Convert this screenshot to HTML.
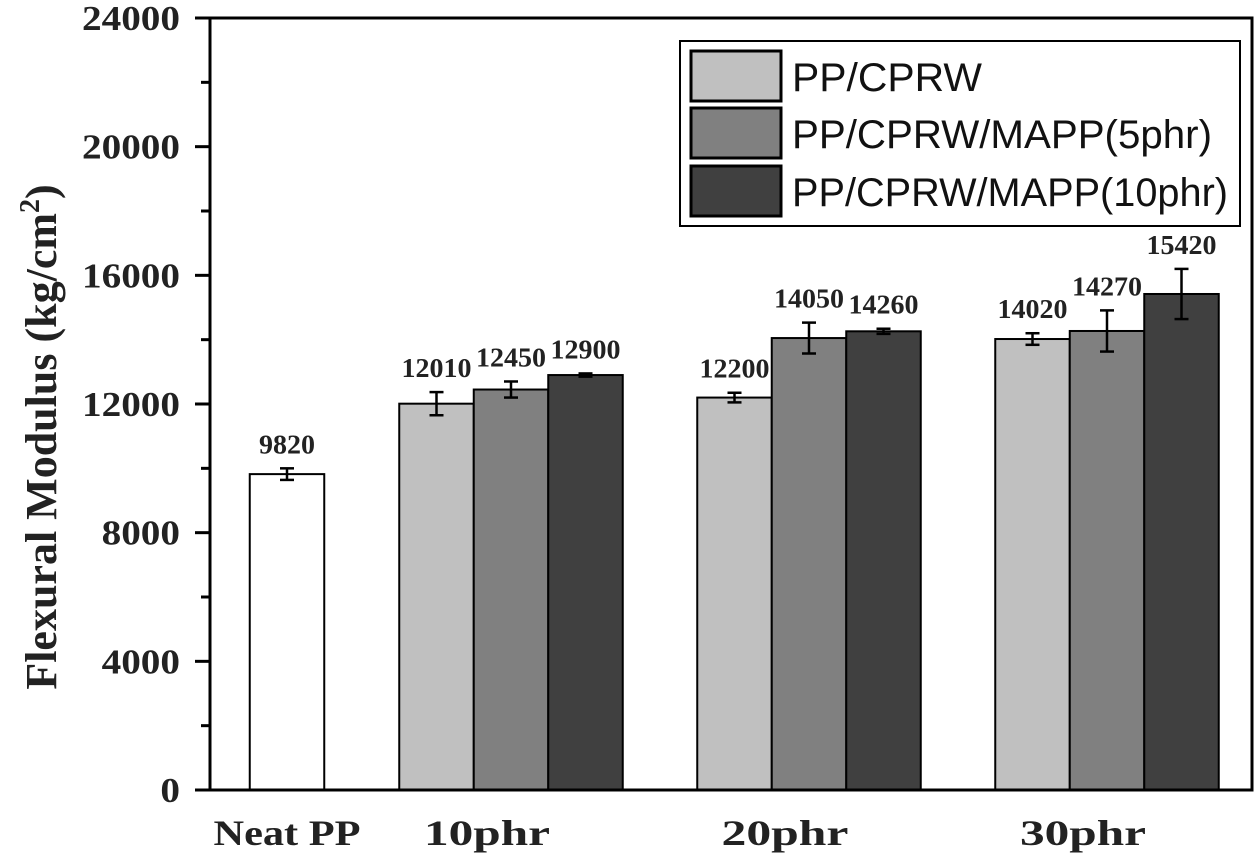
<!DOCTYPE html>
<html><head><meta charset="utf-8"><style>
body{margin:0;background:#fff}
svg{display:block}
</style></head><body>
<svg id="chart" width="1260" height="856" viewBox="0 0 1260 856" xmlns="http://www.w3.org/2000/svg">
<g id="bars"></g>
<g id="axes"></g>
</svg>
<script>
const categories = ["Neat PP", "10phr", "20phr", "30phr"];
const seriesNames = ["PP/CPRW", "PP/CPRW/MAPP(5phr)", "PP/CPRW/MAPP(10phr)"];
const neatValue = 9820;
const neatError = 180;
const cprwValues = [12010, 12200, 14020];
const mapp5Values = [12450, 14050, 14270];
const mapp10Values = [12900, 14260, 15420];
const cprwErrors = [360, 150, 180];
const mapp5Errors = [250, 480, 640];
const mapp10Errors = [50, 80, 780];
const yTicks = [0, 4000, 8000, 12000, 16000, 20000, 24000];

const NS = "http://www.w3.org/2000/svg";
const X0 = 210, X1 = 1252, Y0 = 790, Y1 = 18, YMAX = 24000;
const BW = 74.5;
function y(v){ return Y0 - (v / YMAX) * (Y0 - Y1); }
function groupCenter(i){ return i === 0 ? 287 : 511 + (i - 1) * 298; }
const fills = ["#c0c0c0", "#808080", "#404040"];
function mk(tag, attrs, parent){
  const e = document.createElementNS(NS, tag);
  for (const k in attrs) e.setAttribute(k, attrs[k]);
  parent.appendChild(e); return e;
}
const bars = document.getElementById("bars");
const axes = document.getElementById("axes");
const serif = "'Liberation Serif', serif";

function drawBar(cx, v, err, fill, name){
  const r = mk("rect", {x: cx - BW/2, y: y(v), width: BW, height: Y0 - y(v), fill: fill, stroke: "#000", "stroke-width": 2}, bars);
  
  
  const g = mk("g", {stroke: "#000", "stroke-width": 2.5}, bars);
  
  
  mk("line", {x1: cx, x2: cx, y1: y(v + err), y2: y(v - err)}, g);
  mk("line", {x1: cx - 7, x2: cx + 7, y1: y(v + err), y2: y(v + err)}, g);
  mk("line", {x1: cx - 7, x2: cx + 7, y1: y(v - err), y2: y(v - err)}, g);
  const t = mk("text", {x: cx, y: y(v + err) - 15, "text-anchor": "middle", "font-family": serif, "font-weight": "bold", "font-size": 27, fill: "#222"}, bars);
  t.textContent = v;
  t.setAttribute("textLength", String(v).length * 14);
  t.setAttribute("lengthAdjust", "spacingAndGlyphs");
  
  
}
drawBar(groupCenter(0), neatValue, neatError, "#fff", "bar-neat-pp");
const allVals = [cprwValues, mapp5Values, mapp10Values];
const allErrs = [cprwErrors, mapp5Errors, mapp10Errors];
for (let g = 1; g < categories.length; g++){
  for (let s = 0; s < 3; s++){
    drawBar(groupCenter(g) + (s - 1) * BW, allVals[s][g-1], allErrs[s][g-1], fills[s], "bar-" + categories[g] + "-s" + (s+1));
  }
}
const frame = mk("rect", {x: X0, y: Y1, width: X1 - X0, height: Y0 - Y1, fill: "none", stroke: "#000", "stroke-width": 3}, axes);


for (let i = 0; i < yTicks.length; i++){
  const v = yTicks[i];
  mk("line", {x1: X0 - 15, x2: X0, y1: y(v), y2: y(v), stroke: "#000", "stroke-width": 3}, axes);
  if (i < yTicks.length - 1) mk("line", {x1: X0 - 9, x2: X0, y1: y(v + 2000), y2: y(v + 2000), stroke: "#000", "stroke-width": 3}, axes);
  const t = mk("text", {x: 180, y: y(v) + 12, "text-anchor": "end", "font-family": serif, "font-weight": "bold", "font-size": 35, fill: "#222"}, axes);
  t.textContent = v;
  t.setAttribute("textLength", String(v).length * 19.6);
  t.setAttribute("lengthAdjust", "spacingAndGlyphs");
  
  
}
const xLens = [147, 126, 127, 126];
for (let i = 0; i < categories.length; i++){
  const off = i === 0 ? 0 : -24;
  const t = mk("text", {x: groupCenter(i) + off, y: 845, "text-anchor": "middle", "font-family": serif, "font-weight": "bold", "font-size": 36, fill: "#222"}, axes);
  t.textContent = categories[i];
  t.setAttribute("textLength", xLens[i]);
  t.setAttribute("lengthAdjust", "spacingAndGlyphs");
  
  
}
const yt = mk("text", {transform: "translate(56,437) rotate(-90)", "text-anchor": "middle", "font-family": serif, "font-weight": "bold", "font-size": 44, fill: "#222"}, axes);


yt.appendChild(document.createTextNode("Flexural Modulus (kg/cm"));
const sup = mk("tspan", {"font-size": 28, dy: -17}, yt); sup.textContent = "2";
const cl = mk("tspan", {dy: 17}, yt); cl.textContent = ")";
const lg = mk("g", {}, axes);


mk("rect", {x: 680, y: 41, width: 560, height: 185, fill: "#fff", stroke: "#000", "stroke-width": 2}, lg);
const rowsY = [51, 108, 166];
for (let s = 0; s < 3; s++){
  const e = mk("g", {}, lg);
  
  
  mk("rect", {x: 691, y: rowsY[s], width: 90, height: 50, fill: fills[s], stroke: "#000", "stroke-width": 3}, e);
  const t = mk("text", {x: 792, y: rowsY[s] + 40, "font-family": "'Liberation Sans', sans-serif", "font-size": 40, fill: "#111"}, e);
  t.textContent = seriesNames[s];
  const lens = [190, 420, 436];
  t.setAttribute("textLength", lens[s]);
  t.setAttribute("lengthAdjust", "spacingAndGlyphs");
}
</script>
</body></html>
